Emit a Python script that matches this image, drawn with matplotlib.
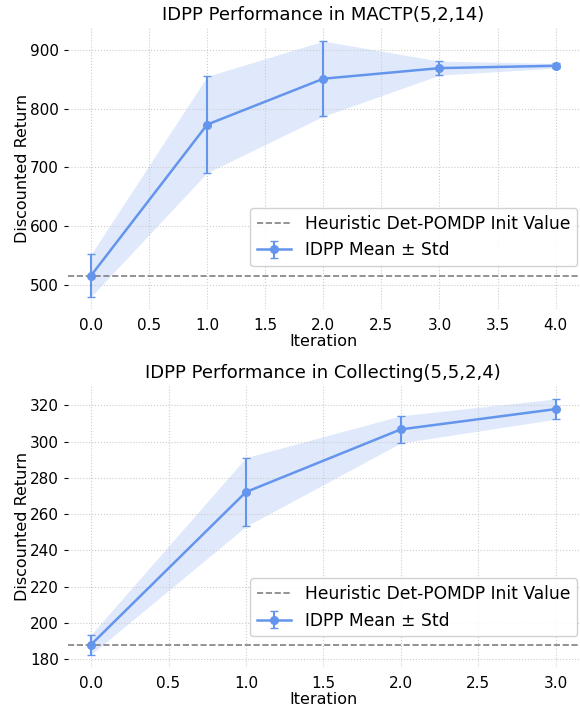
import matplotlib
matplotlib.use("Agg")
import matplotlib.pyplot as plt
import numpy as np

iters_a = [0, 1, 2, 3, 4]
mean_a = [516, 773, 851, 869, 873]
std_a = [36, 82, 64, 12, 4]
heur_a = 516

iters_b = [0, 1, 2, 3]
mean_b = [188, 272.2, 306.8, 318]
std_b = [5.5, 19, 7.5, 5.6]
heur_b = 188

titles = ["IDPP Performance in MACTP(5,2,14)", "IDPP Performance in Collecting(5,5,2,4)"]
color = "#6495ED"

fig, axes = plt.subplots(2, 1, figsize=(5.8, 7.08), dpi=100)
fig.subplots_adjust(left=0.117, right=0.998, top=0.960, bottom=0.0575, hspace=0.273)
legend_y = [0.154, 0.110]
for ax, x, m, s, h, t, ly in zip(axes, [iters_a, iters_b], [mean_a, mean_b], [std_a, std_b],
                                 [heur_a, heur_b], titles, legend_y):
    x = np.array(x); m = np.array(m); s = np.array(s)
    ax.axhline(h, color="gray", linestyle="--", linewidth=1.2, label="Heuristic Det-POMDP Init Value")
    ax.errorbar(x, m, yerr=s, color=color, marker="o", markersize=5.5, linewidth=1.8,
                capsize=3, elinewidth=1.5, label="IDPP Mean ± Std")
    ax.fill_between(x, m - s, m + s, color=color, alpha=0.2, linewidth=0)
    ax.set_title(t, fontsize=13)
    ax.set_xlabel("Iteration", fontsize=11.5, labelpad=1)
    ax.set_ylabel("Discounted Return", fontsize=11.5, labelpad=0)
    ax.grid(True, linestyle=":", color="#cccccc", linewidth=0.8)
    for sp in ax.spines.values():
        sp.set_visible(False)
    ax.tick_params(axis="x", length=0, labelsize=11, pad=6)
    ax.tick_params(axis="y", length=3, labelsize=11)
    ax.legend(loc="lower right", bbox_to_anchor=(0.997, ly), borderaxespad=0,
              fontsize=12.3, framealpha=0.9)

axes[0].set_yticks([500, 600, 700, 800, 900])
axes[1].set_yticks([180, 200, 220, 240, 260, 280, 300, 320])
fig.savefig("out.png", dpi=100)
